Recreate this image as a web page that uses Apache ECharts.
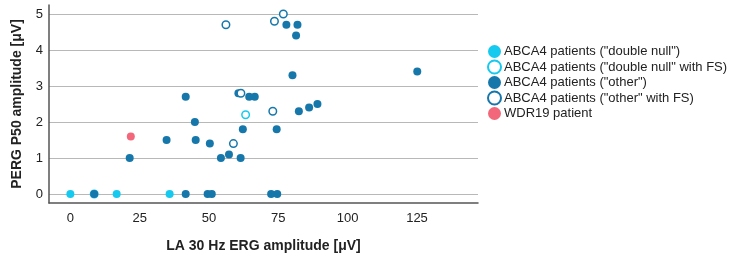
<!DOCTYPE html>
<html>
<head>
<meta charset="utf-8">
<script src="https://cdn.jsdelivr.net/npm/echarts@6/dist/echarts.min.js"></script>
<style>
  html, body { margin: 0; padding: 0; background: #fff; }
  #chart { width: 731px; height: 261px; }
</style>
</head>
<body>
<div id="chart"></div>
<script>
// x: LA 30 Hz ERG amplitude, y: PERG P50 amplitude
const doubleNullX = [0, 16.7, 35.8]
const doubleNullY = [0, 0, 0]
const doubleNullFsX = [8.6, 63.2]
const doubleNullFsY = [0, 2.2]
const otherX = [8.6, 41.6, 49.5, 51.0, 72.4, 74.6, 21.4, 34.7, 41.6, 44.9, 45.2, 50.3, 54.3, 57.2, 61.4, 62.2, 60.6, 64.5, 66.5, 74.4, 77.9, 81.9, 81.4, 80.1, 125.1, 82.4, 86.1, 89.1]
const otherY = [0, 0, 0, 0, 0, 0, 1.0, 1.5, 2.7, 2.0, 1.5, 1.4, 1.0, 1.1, 1.0, 1.8, 2.8, 2.7, 2.7, 1.8, 4.7, 4.7, 4.4, 3.3, 3.4, 2.3, 2.4, 2.5]
const otherFsX = [56.1, 61.5, 58.8, 73.0, 73.6, 76.8]
const otherFsY = [4.7, 2.8, 1.4, 2.3, 4.8, 5.0]
const wdrX = [21.8]
const wdrY = [1.6]
const xTicks = [0, 25, 50, 75, 100, 125]
const yTicks = [0, 1, 2, 3, 4, 5]

const cyan = '#16c9ee'
const blue = '#1677ab'
const red = '#f2687a'
const font = '"Liberation Sans", Arial, sans-serif'

const pairs = (xs, ys) => xs.map((x, i) => [x, ys[i]])

const chart = echarts.init(document.getElementById('chart'))
chart.setOption({
  animation: false,
  textStyle: { fontFamily: font },
  grid: { left: 49, right: 253, top: 5, bottom: 58, outerBoundsMode: 'none' },
  legend: {
    orient: 'vertical',
    left: 482,
    top: 40,
    itemWidth: 13,
    itemHeight: 13,
    itemGap: 1.5,
    icon: 'circle',
    textStyle: { fontFamily: font, fontSize: 13, color: '#222', padding: [0, 0, 0, -2] },
    data: [
      'ABCA4 patients ("double null")',
      'ABCA4 patients ("double null" with FS)',
      'ABCA4 patients ("other")',
      'ABCA4 patients ("other" with FS)',
      'WDR19 patient'
    ]
  },
  xAxis: {
    type: 'value',
    min: -7.7,
    max: 147,
    name: 'LA 30 Hz ERG amplitude [μV]',
    nameLocation: 'middle',
    nameGap: 36,
    nameTextStyle: { fontFamily: font, fontSize: 14, fontWeight: 'bold', color: '#222' },
    axisLine: { onZero: false, lineStyle: { color: '#555', width: 1.5 } },
    axisTick: { show: false, customValues: xTicks },
    axisLabel: { customValues: xTicks, fontFamily: font, fontSize: 13, color: '#222', margin: 9 },
    splitLine: { show: false }
  },
  yAxis: {
    type: 'value',
    min: -0.25,
    max: 5.25,
    name: 'PERG P50 amplitude [μV]',
    nameLocation: 'middle',
    nameGap: 25,
    nameTextStyle: { fontFamily: font, fontSize: 14, fontWeight: 'bold', color: '#222' },
    axisLine: { show: true, onZero: false, lineStyle: { color: '#555', width: 1.5 } },
    axisTick: { show: false, customValues: yTicks },
    axisLabel: { customValues: yTicks, fontFamily: font, fontSize: 13, color: '#222', margin: 6 },
    splitLine: { show: true, lineStyle: { color: '#b8b8b8', width: 1.2 } }
  },
  series: [
    {
      name: 'ABCA4 patients ("double null")',
      type: 'scatter',
      symbolSize: 8,
      itemStyle: { color: cyan, opacity: 1 },
      data: pairs(doubleNullX, doubleNullY)
    },
    {
      name: 'ABCA4 patients ("double null" with FS)',
      type: 'scatter',
      symbolSize: 7.5,
      itemStyle: { color: '#fff', borderColor: cyan, borderWidth: 1.5, opacity: 1 },
      data: pairs(doubleNullFsX, doubleNullFsY)
    },
    {
      name: 'ABCA4 patients ("other")',
      type: 'scatter',
      symbolSize: 8,
      itemStyle: { color: blue, opacity: 1 },
      data: pairs(otherX, otherY)
    },
    {
      name: 'ABCA4 patients ("other" with FS)',
      type: 'scatter',
      symbolSize: 7.5,
      itemStyle: { color: '#fff', borderColor: blue, borderWidth: 1.5, opacity: 1 },
      data: pairs(otherFsX, otherFsY)
    },
    {
      name: 'WDR19 patient',
      type: 'scatter',
      symbolSize: 8,
      itemStyle: { color: red, opacity: 1 },
      data: pairs(wdrX, wdrY)
    }
  ]
})
</script>
</body>
</html>
